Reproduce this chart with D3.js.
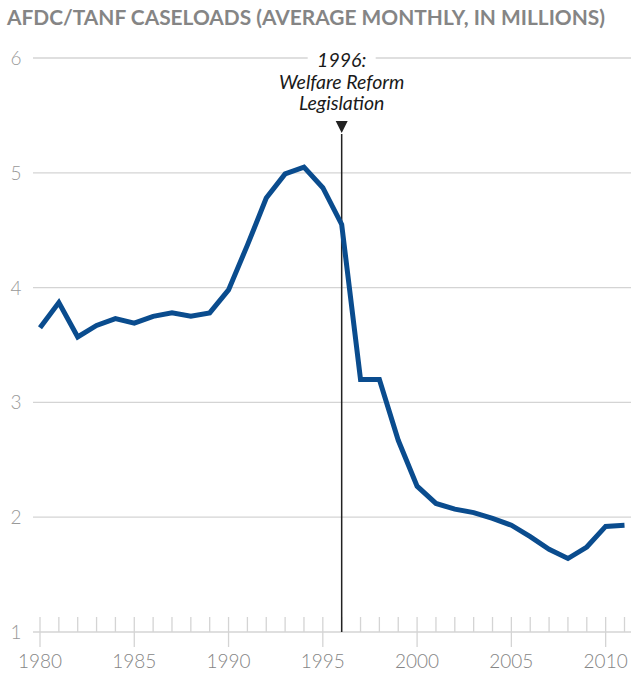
<!DOCTYPE html>
<html>
<head>
<meta charset="utf-8">
<script src="https://cdn.jsdelivr.net/npm/d3@7"></script>
<style>
  body { margin: 0; background: #fff; }
  text { font-family: Lato, "Open Sans", sans-serif; }
</style>
</head>
<body>
<div id="chart"></div>
<script>
// AFDC/TANF average monthly caseloads, millions
const years = d3.range(1980, 2012);
const caseloads = [3.65, 3.87, 3.57, 3.67, 3.73, 3.69, 3.75, 3.78, 3.75, 3.78,
                   3.98, 4.37, 4.78, 4.99, 5.05, 4.87, 4.55, 3.20, 3.20, 2.67,
                   2.27, 2.12, 2.07, 2.04, 1.99, 1.93, 1.83, 1.72, 1.64, 1.74,
                   1.92, 1.93];
const yTicks = [1, 2, 3, 4, 5, 6];
const xTickYears = [1980, 1985, 1990, 1995, 2000, 2005, 2010];
const eventYear = 1996;
const eventLabel = ["1996:", "Welfare Reform", "Legislation"];

const width = 631, height = 677;
const svg = d3.select("#chart").append("svg")
    .attr("width", width)
    .attr("height", height);

const x = d3.scaleLinear().domain([1980, 2011]).range([40, 624.5]);
const y = d3.scaleLinear().domain([1, 6]).range([632, 58]);

svg.append("text")
    .attr("x", 7)
    .attr("y", 25)
    .attr("font-size", 20.5)
    .attr("font-weight", 700)
    .attr("fill", "#858585")
    .attr("textLength", 598)
    .attr("lengthAdjust", "spacingAndGlyphs")
    .text("AFDC/TANF CASELOADS (AVERAGE MONTHLY, IN MILLIONS)");

// horizontal gridlines
svg.append("g")
    .selectAll("line")
    .data(yTicks)
    .join("line")
    .attr("x1", 33)
    .attr("x2", width)
    .attr("y1", d => y(d))
    .attr("y2", d => y(d))
    .attr("stroke", "#d4d4d4")
    .attr("stroke-width", 1.3);

svg.append("g")
    .selectAll("text")
    .data(yTicks)
    .join("text")
    .attr("x", 16)
    .attr("y", d => y(d) + 7)
    .attr("text-anchor", "middle")
    .attr("font-size", 19)
    .attr("font-weight", 300)
    .attr("fill", "#999")
    .text(d => d);

// year ticks along the bottom
const xAxis = svg.append("g");
xAxis.selectAll("line.minor")
    .data(years)
    .join("line")
    .attr("class", "minor")
    .attr("x1", d => x(d)).attr("x2", d => x(d))
    .attr("y1", y(1) - 15)
    .attr("y2", d => xTickYears.includes(d) ? y(1) + 15 : y(1))
    .attr("stroke", "#d4d4d4")
    .attr("stroke-width", 1.3);

xAxis.selectAll("text")
    .data(xTickYears)
    .join("text")
    .attr("x", d => x(d))
    .attr("y", 668)
    .attr("text-anchor", "middle")
    .attr("font-size", 19)
    .attr("font-weight", 300)
    .attr("fill", "#858585")
    .text(d => d);

// annotation
const ex = x(eventYear);
svg.append("rect")
    .attr("x", ex - 34)
    .attr("y", y(6) - 12)
    .attr("width", 68)
    .attr("height", 24)
    .attr("fill", "#fff");

svg.append("line")
    .attr("x1", ex).attr("x2", ex)
    .attr("y1", 134)
    .attr("y2", y(1))
    .attr("stroke", "#222")
    .attr("stroke-width", 1.5);

svg.append("path")
    .attr("d", `M${ex - 6},121 L${ex + 6},121 L${ex},133 Z`)
    .attr("fill", "#222");

svg.append("g")
    .selectAll("text")
    .data(eventLabel)
    .join("text")
    .attr("x", ex)
    .attr("y", (d, i) => 67 + i * 21.5)
    .attr("text-anchor", "middle")
    .attr("font-size", 19.5)
    .attr("font-style", "italic")
    .attr("fill", "#1a1a1a")
    .text(d => d);

// data line
const line = d3.line()
    .x((d, i) => x(years[i]))
    .y(d => y(d));

svg.append("path")
    .datum(caseloads)
    .attr("d", line)
    .attr("fill", "none")
    .attr("stroke", "#0a4c8e")
    .attr("stroke-width", 5)
    .attr("stroke-linejoin", "miter");
</script>
</body>
</html>
